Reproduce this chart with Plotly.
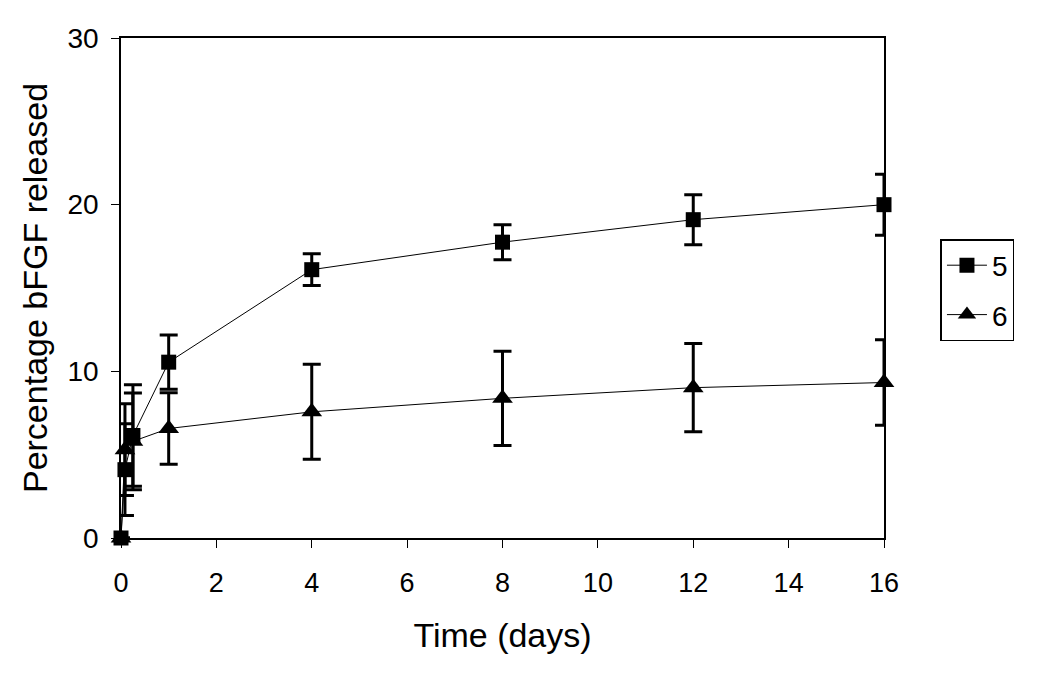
import plotly.graph_objects as go

time_days = [0, 0.083, 0.25, 1, 4, 8, 12, 16]

series5_vals = [0, 4.1, 6.15, 10.55, 16.1, 17.75, 19.1, 20.0]
series5_err = [0, 2.75, 3.05, 1.63, 0.95, 1.05, 1.5, 1.83]

series6_vals = [0, 5.3, 5.8, 6.57, 7.57, 8.38, 9.02, 9.33]
series6_err = [0, 2.75, 2.9, 2.15, 2.85, 2.83, 2.65, 2.57]

x_ticks = [0, 2, 4, 6, 8, 10, 12, 14, 16]
y_ticks = [0, 10, 20, 30]

FONT = "Liberation Sans, Arial, sans-serif"

fig = go.Figure()

fig.add_trace(go.Scatter(
    x=time_days, y=series5_vals, name="5", mode="lines+markers",
    legendgroup="a",
    line=dict(color="black", width=1),
    marker=dict(symbol="square", size=15, color="black"),
    error_y=dict(type="data", array=series5_err, visible=True,
                 color="black", thickness=3, width=9),
    cliponaxis=False,
))

fig.add_trace(go.Scatter(
    x=time_days, y=series6_vals, name="6", mode="lines+markers",
    legendgroup="b",
    line=dict(color="black", width=1),
    marker=dict(symbol="triangle-up", size=18, color="black"),
    error_y=dict(type="data", array=series6_err, visible=True,
                 color="black", thickness=3, width=9),
    cliponaxis=False,
))

fig.update_layout(
    width=1050, height=673,
    margin=dict(l=113, r=174, t=30, b=143),
    paper_bgcolor="white", plot_bgcolor="white",
    font=dict(family=FONT, color="black", size=27),
    showlegend=True,
    legend=dict(
        x=1.074, y=0.598, xanchor="left", yanchor="top",
        bordercolor="black", borderwidth=1.5,
        font=dict(size=28, family=FONT, color="black"),
        tracegroupgap=10,
        traceorder="grouped",
        itemwidth=40,
    ),
)

fig.update_xaxes(
    range=[0, 16], tickvals=x_ticks, ticktext=[str(v) for v in x_ticks],
    showline=True, linecolor="black", linewidth=1.5, mirror=True,
    ticks="outside", ticklen=8, tickwidth=1.2, tickcolor="black",
    showgrid=False, zeroline=False,
    tickfont=dict(size=27, family=FONT, color="black"),
    ticklabelstandoff=12,
    title=dict(text="Time (days)", font=dict(size=34, family=FONT, color="black"),
               standoff=26),
)

fig.update_yaxes(
    range=[0, 30], tickvals=y_ticks, ticktext=[str(v) for v in y_ticks],
    showline=True, linecolor="black", linewidth=1.5, mirror=True,
    ticks="outside", ticklen=8, tickwidth=1.2, tickcolor="black",
    showgrid=False, zeroline=False,
    tickfont=dict(size=28, family=FONT, color="black"),
    ticklabelstandoff=7,
    title=dict(text="Percentage bFGF released", font=dict(size=34, family=FONT, color="black"),
               standoff=10),
)

fig.write_html("out.html")
